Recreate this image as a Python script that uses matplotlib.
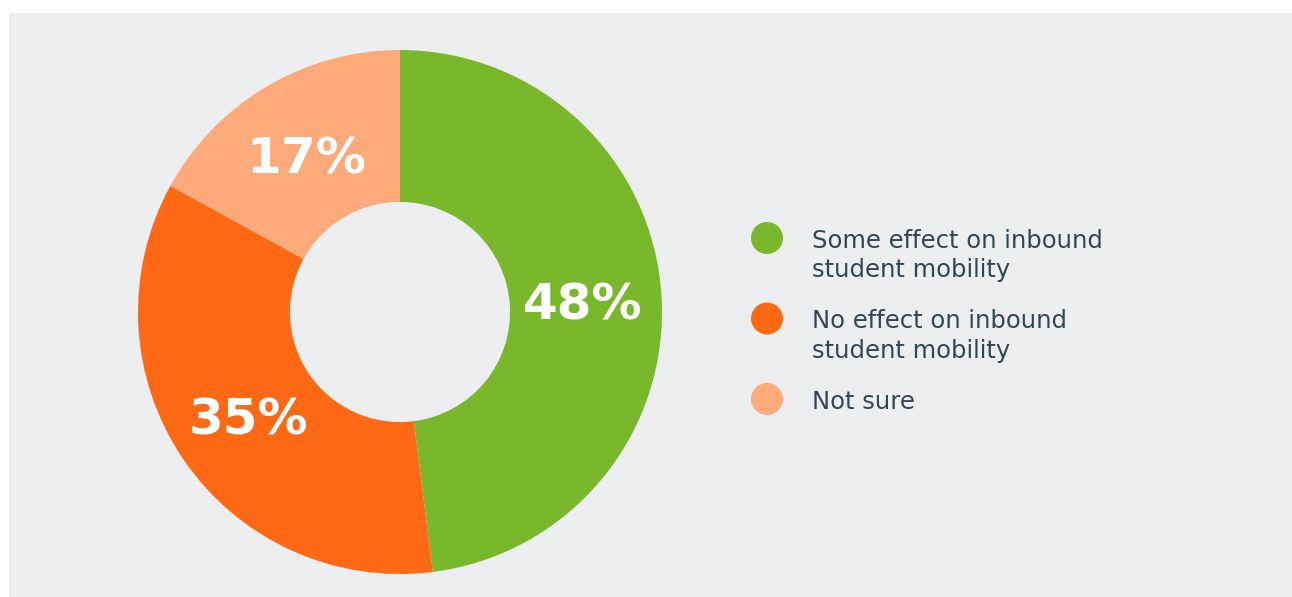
import matplotlib.pyplot as plt
from matplotlib.patches import Rectangle

# survey answers
labels = ["Some effect on inbound\nstudent mobility",
          "No effect on inbound\nstudent mobility",
          "Not sure"]
shares = [48, 35, 17]
colors = ["#79B82A", "#FF6914", "#FFAA7B"]

panel = "#EDEEF0"
text_col = "#2E4854"

W, H = 1292, 597
fig = plt.figure(figsize=(W / 100, H / 100), dpi=100)
fig.patch.set_facecolor("white")

# background axes in pixel coords: grey panel + hand-made legend
bg = fig.add_axes([0, 0, 1, 1], zorder=0)
bg.set_xlim(0, W)
bg.set_ylim(H, 0)
bg.axis("off")
bg.add_patch(Rectangle((9, 13), W - 9, H - 13, facecolor=panel,
                       edgecolor="none", zorder=0))

y0, step = 238, 80.5
for i, (lab, c) in enumerate(zip(labels, colors)):
    y = y0 + i * step
    bg.scatter([767], [y], s=(32 * 0.72) ** 2, color=c, edgecolors="none",
               zorder=2)
    for j, line in enumerate(lab.split("\n")):
        bg.text(812, y + 10 + j * 29.5, line, fontsize=17.5,
                color=text_col, va="baseline", ha="left")

# donut: centre (400, 312) px, radius 262 px
r_px = 262
ax = fig.add_axes([(400 - r_px) / W, (H - 312 - r_px) / H,
                   2 * r_px / W, 2 * r_px / H], zorder=1)
ax.set_facecolor("none")
wedges, _, pcts = ax.pie(shares, colors=colors, startangle=90,
                         counterclock=False, radius=1,
                         autopct="%d%%", pctdistance=0.70,
                         wedgeprops=dict(width=0.58, edgecolor="none"),
                         textprops=dict(color="white", fontsize=36,
                                        fontweight="bold",
                                        family="DejaVu Sans"))
for t in pcts:
    t.set_va("center_baseline")
ax.set_xlim(-1, 1)
ax.set_ylim(-1, 1)
ax.set_aspect("equal")
ax.axis("off")

fig.savefig("out.png", dpi=100, facecolor=fig.get_facecolor())
